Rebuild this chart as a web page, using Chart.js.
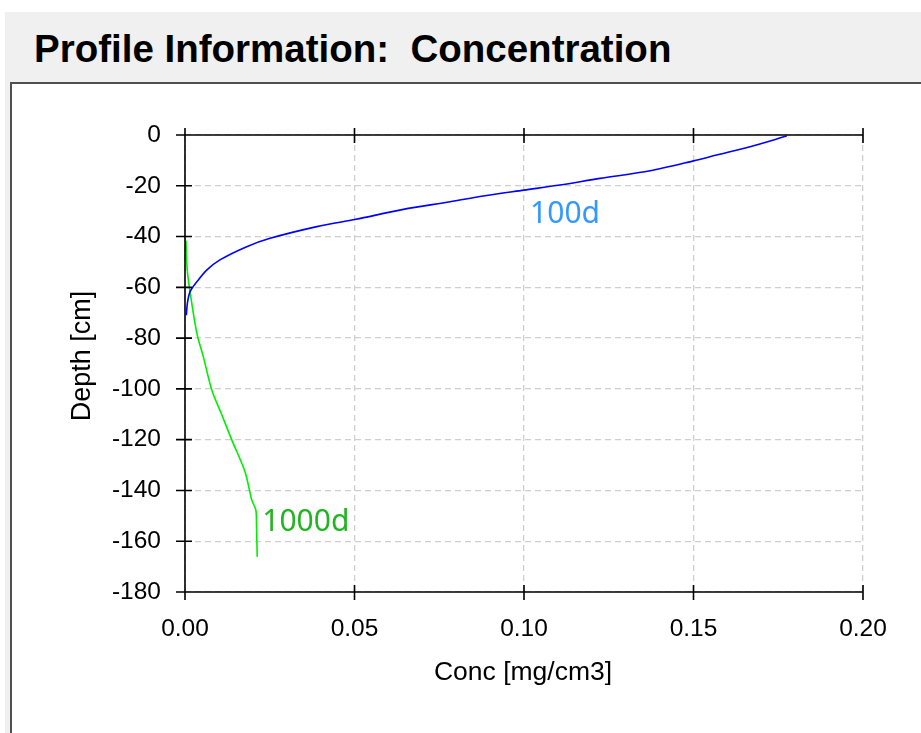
<!DOCTYPE html>
<html>
<head>
<meta charset="utf-8">
<title>Profile Information: Concentration</title>
<script src="https://cdn.jsdelivr.net/npm/chart.js@4.4.1/dist/chart.umd.min.js"></script>
<style>
    html, body { margin: 0; padding: 0; width: 921px; height: 733px; overflow: hidden; background: #fff; font-family: "Liberation Sans", Arial, sans-serif; }
    #frame { position: absolute; left: 5px; top: 12px; width: 940px; height: 740px; background: #f0f0f0; }
    #title { position: absolute; left: 34px; top: 27px; font-size: 38.5px; font-weight: bold; color: #000; white-space: pre; }
    #panel { position: absolute; left: 10px; top: 82px; width: 940px; height: 700px; background: #fff; border-top: 2px solid #505050; border-left: 2px solid #505050; }
    #chartBox { position: absolute; left: 0; top: 0; width: 921px; height: 733px; }
</style>
</head>
<body>
<div id="frame"></div>
<div id="title">Profile Information:  Concentration</div>
<div id="panel"></div>
<div id="chartBox"><canvas id="chartProfile" width="921" height="733"></canvas></div>
<script>
// tick values
const concTicks = [0, 0.05, 0.10, 0.15, 0.20];
const depthTicks = [0, -20, -40, -60, -80, -100, -120, -140, -160, -180];

// 100 days
const conc100 = [0.1775, 0.1667, 0.1568, 0.150, 0.1372, 0.1224, 0.1106, 0.100, 0.088, 0.0782, 0.0644, 0.0504, 0.0389, 0.0251, 0.0182, 0.0103, 0.0064, 0.0035, 0.0015, 0.0007, 0.0004];
const depth100 = [-0.4, -4.6, -7.9, -10.2, -14.1, -17.1, -19.7, -21.7, -24.0, -26.3, -29.3, -33.2, -36.1, -40.7, -44.0, -49.2, -53.2, -57.8, -61.7, -66.3, -71.0];

// 1000 days
const conc1000 = [0.0003, 0.0005, 0.0008, 0.0015, 0.0035, 0.0054, 0.0079, 0.0108, 0.0138, 0.0177, 0.0197, 0.0209, 0.0211, 0.0213];
const depth1000 = [-41.6, -50.0, -55.0, -62.0, -78.1, -87.3, -100.4, -110.0, -120.1, -132.6, -143.8, -147.7, -154.3, -166.1];

const seriesNames = ['100d', '1000d'];

const toPoints = (xs, ys) => xs.map((x, i) => ({ x: x, y: ys[i] }));

// curve labels, anchored in data units
const curveLabels = [
    { text: seriesNames[0], x: 0.1018, y: -34.5, color: '#3399ff' },
    { text: seriesNames[1], x: 0.0228, y: -155.8, color: '#22b422' }
];

const axisPlugin = {
    id: 'axisPlugin',
    afterDraw(chart) {
        const ctx = chart.ctx;
        const a = chart.chartArea;
        const xs = chart.scales.x;
        const ys = chart.scales.y;
        ctx.save();
        ctx.strokeStyle = '#000';
        ctx.lineWidth = 1.6;
        ctx.beginPath();
        // left, top, bottom axis lines
        ctx.moveTo(a.left, a.top); ctx.lineTo(a.left, a.bottom);
        ctx.moveTo(a.left - 9, a.top); ctx.lineTo(a.right, a.top);
        ctx.moveTo(a.left - 9, a.bottom); ctx.lineTo(a.right, a.bottom);
        depthTicks.forEach(v => {
            const py = ys.getPixelForValue(v);
            ctx.moveTo(a.left - 9, py); ctx.lineTo(a.left + 7, py);
        });
        concTicks.forEach(v => {
            const px = xs.getPixelForValue(v);
            ctx.moveTo(px, a.top - 7); ctx.lineTo(px, a.top + 8);
            ctx.moveTo(px, a.bottom - 7); ctx.lineTo(px, a.bottom + 8);
        });
        ctx.stroke();

        // axis titles
        ctx.fillStyle = '#000';
        ctx.textAlign = 'center';
        ctx.textBaseline = 'alphabetic';
        ctx.font = '26.5px "Liberation Sans", Arial, sans-serif';
        ctx.fillText('Conc [mg/cm3]', 523, 680);
        ctx.font = '27px "Liberation Sans", Arial, sans-serif';
        ctx.translate(90, 356);
        ctx.rotate(-Math.PI / 2);
        ctx.fillText('Depth [cm]', 0, 0);
        ctx.restore();

        // curve labels
        ctx.save();
        ctx.font = '30px "Noto Sans", "Open Sans", sans-serif';
        ctx.textAlign = 'left';
        ctx.textBaseline = 'alphabetic';
        curveLabels.forEach(l => {
            ctx.fillStyle = l.color;
            ctx.fillText(l.text, xs.getPixelForValue(l.x), ys.getPixelForValue(l.y));
        });
        ctx.restore();
    }
};

const gridOpts = {
    color: '#cfcfcf',
    lineWidth: 1.3,
    drawTicks: false
};

new Chart(document.getElementById('chartProfile').getContext('2d'), {
    type: 'scatter',
    data: {
        datasets: [
            {
                label: seriesNames[0],
                data: toPoints(conc100, depth100),
                showLine: true,
                borderColor: '#0000ff',
                borderWidth: 1.6,
                pointRadius: 0,
                tension: 0.3
            },
            {
                label: seriesNames[1],
                data: toPoints(conc1000, depth1000),
                showLine: true,
                borderColor: '#00ee00',
                borderWidth: 1.6,
                pointRadius: 0,
                tension: 0.3
            }
        ]
    },
    options: {
        responsive: false,
        animation: false,
        maintainAspectRatio: false,
        layout: { padding: { left: 0, top: 135, right: 58, bottom: 0 } },
        plugins: {
            legend: { display: false },
            tooltip: { enabled: false },
            title: { display: false }
        },
        scales: {
            x: {
                type: 'linear',
                min: 0,
                max: 0.2,
                afterBuildTicks: s => { s.ticks = concTicks.map(v => ({ value: v })); },
                afterFit: s => { s.height = 733 - 592; },
                border: { display: false, dash: [6, 4] },
                grid: gridOpts,
                ticks: {
                    padding: 23,
                    color: '#000',
                    font: { family: '"Liberation Sans", Arial, sans-serif', size: 24.5 },
                    maxRotation: 0,
                    callback: v => Number(v).toFixed(2)
                }
            },
            y: {
                type: 'linear',
                min: -180,
                max: 0,
                afterBuildTicks: s => { s.ticks = depthTicks.map(v => ({ value: v })); },
                afterFit: s => { s.width = 185; },
                border: { display: false, dash: [6, 4] },
                grid: gridOpts,
                ticks: {
                    padding: 24,
                    color: '#000',
                    font: { family: '"Liberation Sans", Arial, sans-serif', size: 24.5 },
                    callback: v => String(v)
                }
            }
        }
    },
    plugins: [axisPlugin]
});
</script>
</body>
</html>
